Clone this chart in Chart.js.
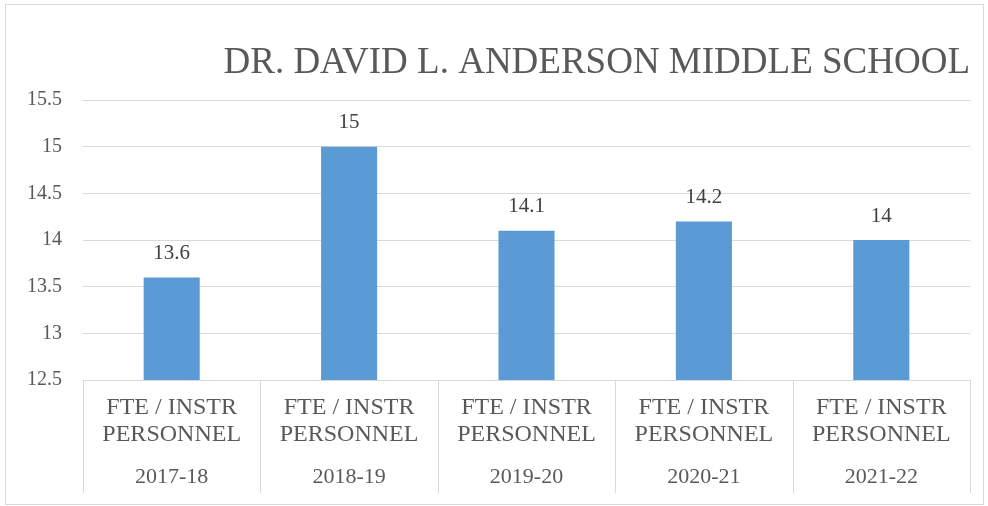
<!DOCTYPE html>
<html>
<head>
<meta charset="utf-8">
<script src="https://cdn.jsdelivr.net/npm/chart.js@4"></script>
<style>
  html, body { margin: 0; padding: 0; background: #fff; }
  #wrap { width: 988px; height: 506px; }
</style>
</head>
<body>
<div id="wrap"><canvas id="myChart" width="988" height="506"></canvas></div>
<script>
const categories = ['FTE / INSTR PERSONNEL', 'FTE / INSTR PERSONNEL', 'FTE / INSTR PERSONNEL', 'FTE / INSTR PERSONNEL', 'FTE / INSTR PERSONNEL']
const years = ['2017-18', '2018-19', '2019-20', '2020-21', '2021-22']
const values = [13.6, 15, 14.1, 14.2, 14]
const chartTitle = 'DR. DAVID L. ANDERSON MIDDLE SCHOOL'

const fontName = '"Liberation Serif"'
const textColor = '#595959'
const gridColor = '#d9d9d9'

Chart.defaults.font.family = fontName

// outer frame like the office chart box
const framePlugin = {
  id: 'frame',
  beforeDraw(chart) {
    const ctx = chart.ctx
    ctx.save()
    ctx.fillStyle = '#fff'
    ctx.fillRect(0, 0, chart.width, chart.height)
    ctx.strokeStyle = gridColor
    ctx.lineWidth = 1
    ctx.strokeRect(5.5, 4.5, 978, 500)
    ctx.restore()
  }
}

// vertical separators between the categories in the label area
const separatorPlugin = {
  id: 'separators',
  afterDraw(chart) {
    const x = chart.scales.x
    const x2 = chart.scales.x2
    const half = (x.getPixelForValue(1) - x.getPixelForValue(0)) / 2
    const ctx = chart.ctx
    ctx.save()
    ctx.strokeStyle = gridColor
    ctx.lineWidth = 1
    for (let i = 0; i <= years.length; i++) {
      const px = Math.round(x.getPixelForValue(i) - half) + 0.5
      ctx.beginPath()
      ctx.moveTo(px, x.top)
      ctx.lineTo(px, x2.bottom)
      ctx.stroke()
    }
    ctx.restore()
  }
}

// value labels above each bar
const valueLabelPlugin = {
  id: 'valueLabels',
  afterDatasetsDraw(chart) {
    const ctx = chart.ctx
    const meta = chart.getDatasetMeta(0)
    ctx.save()
    ctx.font = '21px ' + fontName
    ctx.fillStyle = '#404040'
    ctx.textAlign = 'center'
    ctx.textBaseline = 'middle'
    meta.data.forEach((bar, i) => {
      ctx.fillText(String(values[i]), bar.x, bar.y - 24)
    })
    ctx.restore()
  }
}

const canvas = document.getElementById('myChart')
// software canvas so the system serif font is used
const ctx = canvas.getContext('2d', { willReadFrequently: true })

const chart = new Chart(ctx, {
  type: 'bar',
  data: {
    labels: categories.map(c => ['FTE / INSTR', 'PERSONNEL']),
    datasets: [{
      label: 'FTE / INSTR PERSONNEL',
      data: values,
      backgroundColor: '#5b9bd5',
      borderWidth: 0,
      categoryPercentage: 1,
      barPercentage: 0.316
    }]
  },
  options: {
    responsive: false,
    animation: false,
    layout: {
      padding: { left: 6, right: 18, top: 0, bottom: 13 }
    },
    plugins: {
      legend: { display: false },
      tooltip: { enabled: false },
      title: {
        display: true,
        text: chartTitle,
        align: 'end',
        color: textColor,
        font: { family: fontName, size: 37, weight: 'normal', lineHeight: 1.2 },
        padding: { top: 41, bottom: 14.6 }
      }
    },
    scales: {
      y: {
        min: 12.5,
        max: 15.5,
        ticks: {
          stepSize: 0.5,
          color: textColor,
          padding: 21,
          font: { family: fontName, size: 20 },
          callback: v => String(v)
        },
        grid: { color: gridColor, drawTicks: false },
        border: { display: false },
        afterFit: s => { s.width = 77 }
      },
      x: {
        offset: true,
        ticks: {
          color: textColor,
          padding: 14.5,
          maxRotation: 0,
          autoSkip: false,
          font: { family: fontName, size: 24, lineHeight: 1.104 }
        },
        grid: { display: false, drawTicks: false },
        border: { display: true, color: gridColor }
      },
      x2: {
        type: 'category',
        labels: years,
        position: 'bottom',
        offset: true,
        ticks: {
          color: textColor,
          padding: 2.25,
          maxRotation: 0,
          autoSkip: false,
          font: { family: fontName, size: 22, lineHeight: 1.2 }
        },
        grid: { display: false, drawTicks: false },
        border: { display: false }
      }
    }
  },
  plugins: [framePlugin, separatorPlugin, valueLabelPlugin]
})
</script>
</body>
</html>
